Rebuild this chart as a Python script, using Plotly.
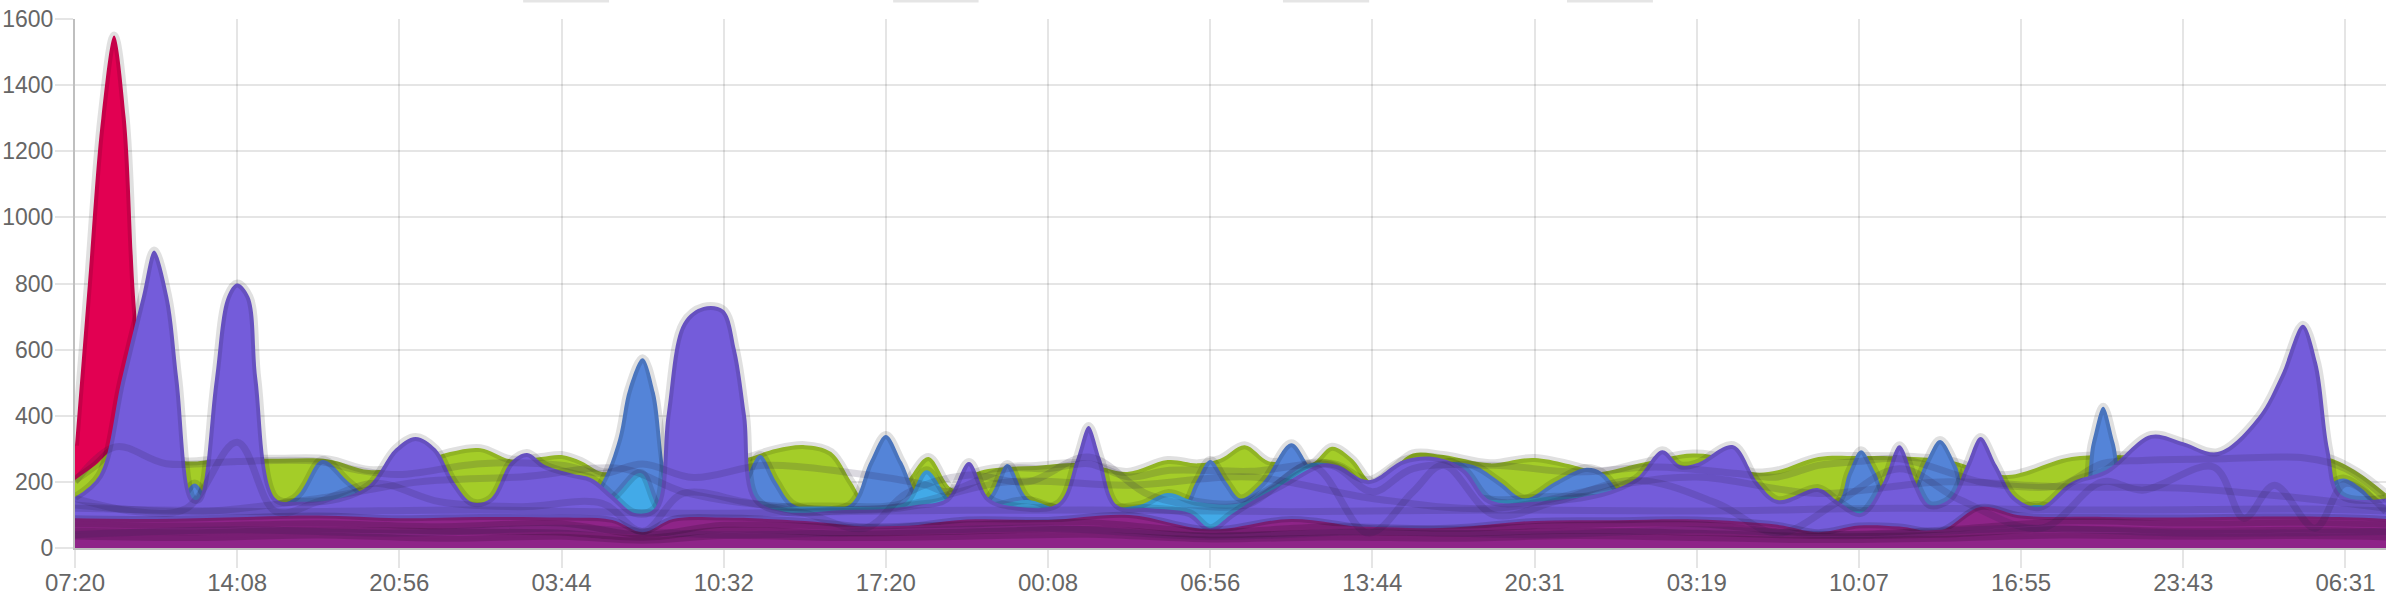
import plotly.graph_objects as go

# ---------------- data ----------------
TIME_LABELS = ["07:20", "14:08", "20:56", "03:44", "10:32", "17:20", "00:08", "06:56",
               "13:44", "20:31", "03:19", "10:07", "16:55", "23:43", "06:31"]
SAMPLES_PER_LABEL = 8
N_SAMPLES = 115  # sample index 0..114

RED_X = [0, 0.64, 1.3, 1.93, 2.5, 2.96, 3.6, 4.3, 5]
RED_Y = [310, 800, 1300, 1550, 1300, 760, 300, 60, 0]

GREEN_X = [0, 1, 2.1, 3.5, 5.5, 7, 10, 12.5, 14.5, 16.5, 18.5, 20, 21.5, 23, 24, 25, 26, 27.5, 29.5,
           31.5, 33, 34.6, 36, 37.3, 38.3, 39, 40, 41, 42.1, 43.3, 44.5, 46, 47.4, 48.9, 50, 51.9,
           53.9, 55.4, 56.5, 57.7, 58.9, 60, 61, 62, 63, 64, 65, 66, 67.5, 69.8, 72, 74.8, 75.3,
           77.2, 79.8, 81.5, 82.7, 84, 86, 88, 90.7, 92.5, 95.2, 98.5, 102, 106, 110, 111.2, 112.6, 114]
GREEN_Y = [206, 250, 306, 290, 262, 268, 270, 268, 236, 250, 290, 302, 268, 275, 281, 262, 230, 240, 250,
           255, 270, 300, 311, 290, 200, 140, 150, 200, 275, 180, 230, 245, 248, 256, 255, 230,
           266, 256, 270, 311, 262, 265, 256, 306, 270, 200, 240, 286, 281, 256, 272, 236, 230,
           256, 286, 270, 230, 235, 275, 278, 275, 265, 220, 275, 280, 280, 278, 272, 230, 165]

BLUE_X = [0, 4, 5.2, 5.9, 6.6, 8, 10.8, 12.2, 13.5, 14.6, 17, 22, 25, 26, 26.8, 27.3, 28, 28.6, 29.2,
          29.8, 32, 33, 33.8, 34.6, 35.5, 38.2, 39.2, 40, 40.8, 41.7, 43, 45, 46, 47, 48.5, 54.5,
          55.3, 56, 56.8, 57.5, 58.6, 60, 61, 62, 64, 66, 67.5, 69, 70.3, 71.5, 73, 74.5, 75.3,
          76.5, 77.5, 80, 86.8, 87.5, 88.1, 88.8, 89.5, 90.5, 91.3, 92, 92.8, 93.5, 98.8, 99.5,
          100.05, 100.6, 101.3, 103, 110.5, 111.2, 111.9, 112.8, 113.5, 114]
BLUE_Y = [120, 120, 150, 195, 150, 120, 150, 266, 200, 150, 120, 115, 120, 200, 330, 480, 574, 470, 200,
          120, 120, 200, 281, 200, 130, 130, 260, 342, 260, 150, 130, 150, 254, 150, 120, 120,
          200, 266, 200, 150, 200, 317, 240, 200, 140, 200, 257, 250, 200, 150, 200, 242, 230,
          150, 130, 120, 130, 230, 296, 230, 140, 160, 260, 327, 250, 140, 140, 320,
          427, 320, 150, 120, 130, 190, 210, 180, 140, 130]

LIGHTBLUE_X = [0, 20, 25, 26.5, 27.9, 29, 33, 35.5, 38, 40, 41, 42, 43.3, 45, 47, 48.5, 52.5, 53.9,
               55.3, 57.5, 59, 61, 62.5, 64, 66, 68, 70, 73, 75.3, 76.5, 80, 86, 90, 95.5, 96.8, 98, 114]
LIGHTBLUE_Y = [100, 100, 110, 150, 227, 110, 115, 125, 125, 125, 140, 235, 140, 125, 145, 120, 130, 166,
               140, 135, 180, 257, 240, 160, 170, 165, 145, 155, 150, 140, 120, 115, 110, 120, 130, 120, 110]

PURPLE_X = [0, 1.2, 2.3, 3.3, 3.9, 4.6, 5.1, 5.8, 6.1, 6.9, 7.5, 8.0, 8.6, 9.0, 9.9, 11, 13, 14.5,
            15.8, 16.8, 17.8, 18.7, 19.6, 20.5, 21.5, 22.3, 23.2, 24.5, 25.5, 26.5, 27.6, 28.6, 29.2,
            30, 31, 32, 32.6, 33.1, 33.6, 35, 38, 40, 41.5, 43, 44.1, 45.1, 46.5, 48.5, 49.4, 50,
            50.6, 51.4, 53, 55, 56, 57, 58, 59.5, 61.5, 62.3, 63.8, 65.5, 67, 68.5, 69.8, 72, 75.3,
            77, 78.3, 79.2, 80, 81.8, 83, 84, 86, 87, 88.1, 89.2, 90, 90.8, 91.5, 92.5, 93.3, 94,
            94.8, 95.7, 96.9, 98.5, 100.2, 102.4, 104, 105.7, 107.7, 108.8, 109.9, 110.6, 111.2,
            111.8, 114]
PURPLE_Y = [154, 220, 508, 760, 900, 760, 508, 150, 148, 508, 760, 800, 760, 508, 150, 140, 150, 190,
            300, 336, 300, 200, 138, 150, 260, 287, 250, 225, 210, 160, 106, 120, 408,
            680, 729, 720, 600, 400, 150, 110, 115, 118, 130, 150, 260, 150, 125, 135, 270, 369,
            270, 130, 120, 105, 60, 100, 140, 190, 255, 250, 205, 265, 275, 240, 145, 140, 166,
            210, 296, 250, 256, 311, 200, 145, 181, 140, 106, 200, 311, 200, 130, 150, 250, 336,
            250, 154, 124, 200, 236, 342, 320, 290, 397, 520, 675, 560, 296,
            160, 150]

MAG1_X = [0, 4, 8, 12, 16, 20, 24, 26.5, 28, 29.5, 32, 36, 40, 44, 48, 52, 56, 60, 64, 68, 72, 76, 80,
          84, 86, 88, 90, 92, 94, 96, 100, 104, 108, 112, 114]
MAG1_Y = [90, 88, 93, 98, 90, 94, 92, 85, 48, 88, 92, 82, 62, 86, 85, 100, 56, 88, 60, 62, 82, 84, 86,
          70, 48, 68, 65, 52, 124, 98, 94, 92, 95, 93, 88]

MAG_X = [0, 6, 12, 18, 24, 28, 32, 38, 44, 50, 56, 62, 68, 74, 80, 86, 92, 98, 104, 110, 114]
MAG2_Y = [72, 68, 75, 66, 74, 40, 70, 64, 72, 78, 50, 66, 58, 70, 72, 42, 55, 80, 74, 76, 70]
MAG3_Y = [52, 48, 56, 50, 46, 30, 55, 44, 50, 58, 38, 48, 44, 52, 46, 36, 40, 58, 52, 55, 50]
MAG4_Y = [35, 30, 38, 28, 34, 22, 36, 30, 34, 40, 26, 32, 28, 36, 30, 24, 28, 38, 34, 36, 32]

LINE1_X = [0, 2, 4.5, 8, 12, 14, 16, 20, 24, 26, 28, 30.5, 34, 38, 42, 43, 46, 48, 50, 52, 54, 58, 62,
           64, 66, 70, 74, 78, 82, 84, 86, 88, 90, 94, 96, 98, 100, 102, 106, 110, 112, 114]
LINE1_Y = [200, 306, 255, 262, 262, 235, 222, 255, 250, 225, 254, 213, 250, 230, 190, 170, 240, 240, 255,
           215, 235, 232, 250, 170, 240, 250, 230, 245, 225, 215, 250, 262, 270, 200, 185, 190, 255, 265,
           270, 272, 240, 150]

LINE2_X = [0, 3, 5.5, 8, 9.9, 12, 14.8, 18, 22, 26, 28, 30, 33, 36, 39, 41, 44, 47, 50, 53, 56, 58, 61,
           63.8, 66, 67.5, 70, 73, 77, 81, 84, 87, 90, 93, 97, 100, 102, 105.5, 107, 108.5, 110.5, 112, 114]
LINE2_Y = [150, 110, 120, 320, 110, 140, 196, 140, 125, 135, 50, 165, 140, 105, 60, 165, 220, 200, 275,
           160, 125, 135, 250, 45, 170, 250, 100, 140, 205, 135, 45, 140, 240, 145, 60, 200, 175, 245,
           90, 190, 60, 195, 110]

LINE3_X = [0, 6, 12, 17, 22, 27, 30, 34, 40, 46, 52, 58, 64, 70, 76, 80, 86, 92, 98, 104, 110, 114]
LINE3_Y = [130, 110, 150, 200, 215, 240, 170, 130, 120, 200, 190, 215, 150, 120, 190, 215, 165, 200,
           185, 181, 150, 120]

LINE4_X = [0, 10, 20, 30, 40, 50, 60, 70, 80, 90, 100, 110, 114]
LINE4_Y = [120, 110, 115, 105, 112, 115, 110, 115, 112, 120, 115, 118, 112]

LINE5_X = [0, 8, 16, 24, 32, 40, 48, 56, 64, 72, 80, 88, 96, 104, 114]
LINE5_Y = [40, 55, 45, 60, 40, 50, 60, 35, 50, 40, 55, 40, 60, 45, 50]

# ---------------- styles ----------------
RED = "rgb(226,0,82)"
GREEN = "rgb(164,205,40)"
BLUE = "rgb(84,132,216)"
LIGHTBLUE = "rgb(66,170,232)"
PURPLE = "rgb(116,92,218)"
MAGENTA = "rgb(142,36,136)"
EDGE = "rgba(0,0,0,0.12)"
DARKLINE = "rgba(40,30,70,0.17)"
FONT = "Liberation Sans, Arial, Helvetica, sans-serif"

fig = go.Figure()


def area(x, y, color, width=8, edge=EDGE):
    fig.add_trace(go.Scatter(
        x=x, y=y, mode="lines", fill="tozeroy", fillcolor=color,
        line=dict(color=edge, width=width, shape="spline", smoothing=1),
        hoverinfo="skip", showlegend=False))


def line(x, y, color=DARKLINE, width=7):
    fig.add_trace(go.Scatter(
        x=x, y=y, mode="lines",
        line=dict(color=color, width=width, shape="spline", smoothing=1),
        hoverinfo="skip", showlegend=False))


area(RED_X, RED_Y, RED)
area(GREEN_X, GREEN_Y, GREEN)
area(BLUE_X, BLUE_Y, BLUE)
area(LIGHTBLUE_X, LIGHTBLUE_Y, LIGHTBLUE)
area(PURPLE_X, PURPLE_Y, PURPLE)
line(LINE4_X, LINE4_Y)
area(MAG1_X, MAG1_Y, MAGENTA, width=6, edge="rgba(0,0,0,0.15)")
area(MAG_X, MAG2_Y, MAGENTA, width=6, edge="rgba(0,0,0,0.15)")
area(MAG_X, MAG3_Y, MAGENTA, width=6, edge="rgba(0,0,0,0.15)")
area(MAG_X, MAG4_Y, MAGENTA, width=6, edge="rgba(0,0,0,0.15)")
line(LINE1_X, LINE1_Y)
line(LINE2_X, LINE2_Y)
line(LINE3_X, LINE3_Y)
line(LINE5_X, LINE5_Y)

tickvals = [i * SAMPLES_PER_LABEL for i in range(len(TIME_LABELS))]

GRID = "rgba(0,0,0,0.1)"
AXIS = "rgba(0,0,0,0.25)"

fig.update_layout(
    width=2392, height=600, autosize=False,
    margin=dict(l=75, r=6, t=19, b=52, autoexpand=False),
    paper_bgcolor="white", plot_bgcolor="white",
    font=dict(family=FONT, size=24, color="#666"),
    xaxis=dict(range=[0, N_SAMPLES - 1], tickmode="array", tickvals=tickvals, ticktext=TIME_LABELS,
               showgrid=True, gridcolor=GRID, gridwidth=2, zeroline=False, automargin=False,
               showline=True, linecolor=AXIS, linewidth=2,
               ticks="outside", ticklen=18, tickwidth=2, tickcolor=GRID,
               ticklabelstandoff=-6,
               tickfont=dict(size=24, color="#666", family=FONT), fixedrange=True),
    yaxis=dict(range=[0, 1600], tickmode="array", tickvals=list(range(0, 1601, 200)),
               showgrid=True, gridcolor=GRID, gridwidth=2, zeroline=False, automargin=False,
               showline=True, linecolor=AXIS, linewidth=2,
               ticks="outside", ticklen=18, tickwidth=2, tickcolor=GRID,
               ticklabelstandoff=-3,
               tickfont=dict(size=23, color="#666", family=FONT), fixedrange=True),
    showlegend=False,
)

# faint legend boxes cut off at the very top of the canvas
for x0, x1 in [(0.1939, 0.2311), (0.354, 0.391), (0.5227, 0.560), (0.6456, 0.6828)]:
    fig.add_shape(type="rect", xref="paper", yref="paper", x0=x0, x1=x1, y0=1.0312, y1=1.04,
                  fillcolor="rgba(0,0,0,0.1)", line=dict(width=0))

fig.write_html(
    "out.html",
    config={"displayModeBar": False, "staticPlot": True},
    post_script="document.body.style.margin='0';document.body.style.overflow='hidden';",
)
